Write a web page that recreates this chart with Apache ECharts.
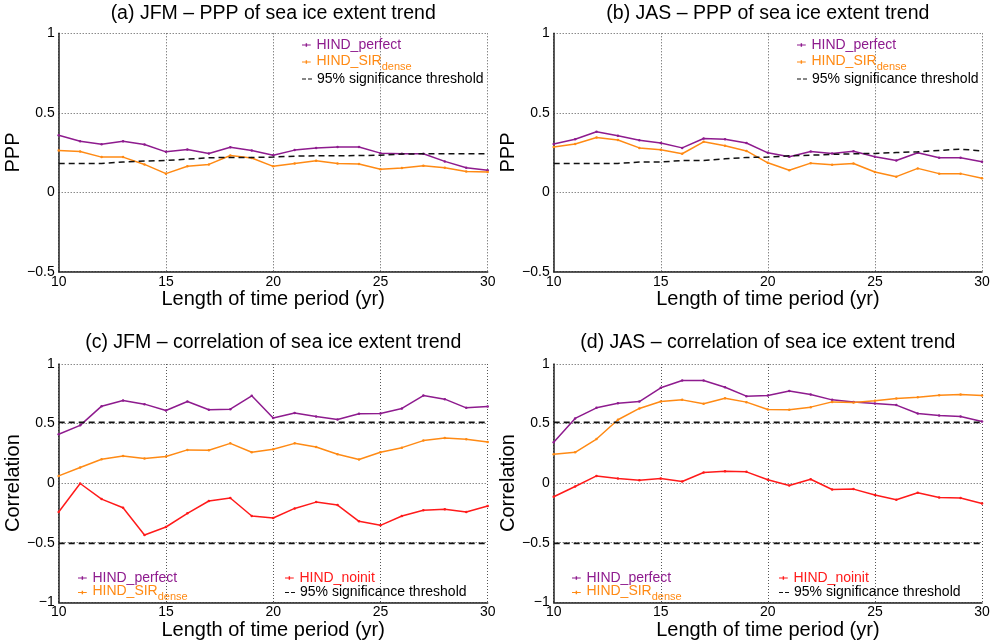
<!DOCTYPE html>
<html>
<head>
<meta charset="utf-8">
<script src="https://cdn.jsdelivr.net/npm/echarts@6/dist/echarts.min.js"></script>
<style>
html,body{margin:0;padding:0;background:#fff;}
#chart{width:994px;height:644px;}
</style>
</head>
<body>
<div id="chart"></div>
<script>
// ---------- DATA ----------
const years = [10,11,12,13,14,15,16,17,18,19,20,21,22,23,24,25,26,27,28,29,30];

// (a) JFM PPP
const aPerfect = [0.358,0.321,0.302,0.321,0.300,0.254,0.269,0.244,0.283,0.262,0.233,0.265,0.279,0.285,0.285,0.246,0.242,0.242,0.194,0.154,0.138];
const aSir     = [0.263,0.256,0.221,0.221,0.175,0.117,0.163,0.175,0.231,0.215,0.163,0.181,0.198,0.181,0.177,0.144,0.152,0.167,0.154,0.131,0.127];
const aThresh  = [0.181,0.181,0.181,0.190,0.196,0.200,0.208,0.217,0.219,0.219,0.221,0.227,0.229,0.229,0.231,0.233,0.240,0.242,0.242,0.242,0.242];

// (b) JAS PPP
const bPerfect = [0.304,0.333,0.381,0.356,0.327,0.310,0.279,0.338,0.333,0.310,0.248,0.223,0.256,0.244,0.258,0.223,0.200,0.248,0.217,0.217,0.192];
const bSir     = [0.285,0.304,0.344,0.329,0.279,0.267,0.242,0.317,0.292,0.260,0.185,0.138,0.183,0.173,0.181,0.127,0.098,0.150,0.117,0.117,0.088];
const bThresh  = [0.181,0.181,0.181,0.181,0.190,0.190,0.200,0.200,0.210,0.219,0.221,0.229,0.233,0.238,0.242,0.244,0.250,0.254,0.263,0.271,0.260];

// (c) JFM correlation
const cPerfect = [0.410,0.485,0.646,0.694,0.663,0.610,0.685,0.616,0.621,0.733,0.546,0.588,0.560,0.535,0.582,0.585,0.627,0.735,0.705,0.632,0.643];
const cSir     = [0.061,0.131,0.200,0.228,0.206,0.223,0.279,0.276,0.334,0.259,0.284,0.334,0.304,0.242,0.198,0.259,0.298,0.357,0.379,0.368,0.345];
const cNoinit  = [-0.242,-0.003,-0.134,-0.206,-0.435,-0.368,-0.253,-0.150,-0.125,-0.276,-0.292,-0.212,-0.159,-0.184,-0.320,-0.354,-0.276,-0.228,-0.220,-0.242,-0.192];

// (d) JAS correlation
const dPerfect = [0.343,0.543,0.632,0.671,0.685,0.800,0.861,0.861,0.805,0.730,0.735,0.774,0.744,0.699,0.682,0.669,0.655,0.585,0.568,0.560,0.518];
const dSir     = [0.242,0.259,0.370,0.532,0.627,0.685,0.699,0.666,0.713,0.680,0.618,0.616,0.638,0.682,0.677,0.691,0.710,0.721,0.738,0.744,0.735];
const dNoinit  = [-0.114,-0.028,0.061,0.039,0.025,0.039,0.014,0.089,0.100,0.095,0.028,-0.019,0.033,-0.053,-0.050,-0.100,-0.139,-0.081,-0.120,-0.125,-0.170];

// correlation significance thresholds (constant)
const corrThreshHi = 0.51;
const corrThreshLo = -0.505;

const titles = [
  '(a) JFM \u2013 PPP of sea ice extent trend',
  '(b) JAS \u2013 PPP of sea ice extent trend',
  '(c) JFM \u2013 correlation of sea ice extent trend',
  '(d) JAS \u2013 correlation of sea ice extent trend'
];
const xName = 'Length of time period (yr)';
const yNames = ['PPP','PPP','Correlation','Correlation'];

// ---------- STYLE ----------
const PURPLE = '#8e1b8e';
const ORANGE = '#ff8a14';
const RED = '#ff1a1a';
const BLACK = '#111';
const FONT = '"Liberation Sans", Arial, Helvetica, sans-serif';

const NP = 'HIND_perfect', NS = 'HIND_SIR_dense', NN = 'HIND_noinit', NT = '95% significance threshold';

const grids = [
  {left: 58.7, top: 33.3, width: 429, height: 238.4},
  {left: 553.7, top: 33.3, width: 428.3, height: 238.4},
  {left: 58.7, top: 364, width: 429, height: 238.3},
  {left: 553.7, top: 364, width: 428.3, height: 238.3}
];

function pairs(vals){ return years.map((y,i)=>[y, vals[i]]); }
function constPairs(v){ return years.map(y=>[y, v]); }

function lineSeries(name, color, data, gi, dashed, width){
  return {
    type: 'line', name: name, xAxisIndex: gi, yAxisIndex: gi,
    data: data,
    symbol: dashed ? 'none' : 'circle',
    symbolSize: 2.5,
    showSymbol: !dashed,
    itemStyle: {color: color},
    lineStyle: {color: color, width: width || 1.5, type: dashed ? [6,4] : 'solid'},
    emphasis: {disabled: true},
    animation: false,
    z: dashed ? 3 : 2
  };
}

const series = [
  lineSeries(NP, PURPLE, pairs(aPerfect), 0),
  lineSeries(NS, ORANGE, pairs(aSir), 0),
  lineSeries(NT, BLACK, pairs(aThresh), 0, true, 1.5),
  lineSeries(NP, PURPLE, pairs(bPerfect), 1),
  lineSeries(NS, ORANGE, pairs(bSir), 1),
  lineSeries(NT, BLACK, pairs(bThresh), 1, true, 1.5),
  lineSeries(NP, PURPLE, pairs(cPerfect), 2),
  lineSeries(NS, ORANGE, pairs(cSir), 2),
  lineSeries(NN, RED, pairs(cNoinit), 2),
  lineSeries(NT, BLACK, constPairs(corrThreshHi), 2, true, 1.8),
  lineSeries(NT, BLACK, constPairs(corrThreshLo), 2, true, 1.8),
  lineSeries(NP, PURPLE, pairs(dPerfect), 3),
  lineSeries(NS, ORANGE, pairs(dSir), 3),
  lineSeries(NN, RED, pairs(dNoinit), 3),
  lineSeries(NT, BLACK, constPairs(corrThreshHi), 3, true, 1.8),
  lineSeries(NT, BLACK, constPairs(corrThreshLo), 3, true, 1.8)
];

const splitLine = {show: true, lineStyle: {color: '#555', type: [1,2], width: 1}};
const axisLine = {show: true, onZero: false, lineStyle: {color: '#222', width: 1.5}};

const xAxes = grids.map((g,i)=>({
  type: 'value', gridIndex: i, min: 10, max: 30, interval: 5,
  name: xName, nameLocation: 'middle', nameGap: 10,
  nameTextStyle: {fontSize: 20, color: '#000', fontFamily: FONT},
  axisLine: axisLine, axisTick: {show: false},
  axisLabel: {fontSize: 14, color: '#000', margin: 3, fontFamily: FONT},
  splitLine: splitLine
}));

const yAxes = grids.map((g,i)=>({
  type: 'value', gridIndex: i,
  min: i < 2 ? -0.5 : -1, max: 1, interval: 0.5,
  name: yNames[i], nameLocation: 'middle', nameGap: 26, nameRotate: 90,
  nameTextStyle: {fontSize: 20, color: '#000', fontFamily: FONT},
  axisLine: axisLine, axisTick: {show: false},
  axisLabel: {fontSize: 14, color: '#000', margin: 4, fontFamily: FONT,
    formatter: v => v === 0 ? '0' : String(v).replace('-', '\u2212')},
  splitLine: splitLine
}));

const titleCfg = titles.map((t,i)=>({
  text: t,
  left: grids[i].left + grids[i].width/2,
  top: i < 2 ? 4 : 333,
  textAlign: 'center',
  padding: 0,
  textStyle: {fontSize: 19.5, fontWeight: 'normal', color: '#000', fontFamily: FONT}
}));

const colorOf = {};
colorOf[NP] = PURPLE; colorOf[NS] = ORANGE; colorOf[NN] = RED; colorOf[NT] = '#000';

// legend icons: solid line with tiny marker, or dashed line
const ICON_SOLID = 'path://M0,1.4h10v1.2h-10z M4.2,0h1.6v4h-1.6z';
const ICON_DASH = 'path://M0,0h4v1h-4z M6,0h4v1h-4z';

function legendItem(name, left, top){
  const dashed = name === NT;
  return {
    data: [{name: name, textStyle: {color: colorOf[name]}}],
    left: left, top: top, orient: 'horizontal',
    padding: 0, itemWidth: 10, itemHeight: dashed ? 1.6 : 3.5, itemGap: 0,
    icon: dashed ? ICON_DASH : ICON_SOLID,
    selectedMode: false,
    textStyle: {fontSize: 14, fontFamily: FONT, lineHeight: 16,
      rich: {
        b: {fontSize: 14, fontFamily: FONT, color: ORANGE, verticalAlign: 'top', lineHeight: 20, padding: [2,0,0,0]},
        s: {fontSize: 11, fontFamily: FONT, color: ORANGE, verticalAlign: 'bottom', lineHeight: 20}
      }
    },
    formatter: n => n === NS ? '{b|HIND_SIR}{s|dense}' : n
  };
}

const legends = [];
[0, 495].forEach(dx => {
  legends.push(legendItem(NP, 302 + dx, 37));
  legends.push(legendItem(NS, 302 + dx, 52));
  legends.push(legendItem(NT, 302 + dx, 71));
});
[0, 494].forEach(dx => {
  legends.push(legendItem(NP, 78 + dx, 570));
  legends.push(legendItem(NS, 78 + dx, 582.5));
  legends.push(legendItem(NN, 285 + dx, 570));
  legends.push(legendItem(NT, 285 + dx, 584.5));
});

const chart = echarts.init(document.getElementById('chart'), null, {renderer: 'canvas'});
chart.setOption({
  backgroundColor: '#fff',
  animation: false,
  title: titleCfg,
  grid: grids,
  xAxis: xAxes,
  yAxis: yAxes,
  legend: legends,
  series: series
});
</script>
</body>
</html>
